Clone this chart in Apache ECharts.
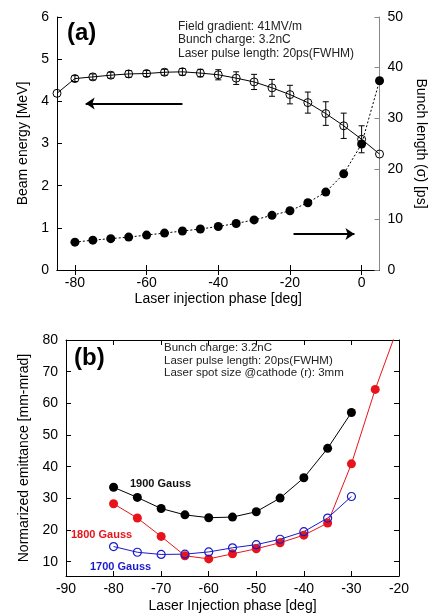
<!DOCTYPE html>
<html>
<head>
<meta charset="utf-8">
<title>injection phase</title>
<style>
  html, body { margin: 0; padding: 0; background: #fff; }
  #main { width: 436px; height: 614px; }
</style>
<script src="https://cdn.jsdelivr.net/npm/echarts@6/dist/echarts.min.js"></script>
</head>
<body>
<div id="main"></div>
<script>
// ---- (a) beam energy + bunch length vs injection phase
var phaseA = [-85, -80, -75, -70, -65, -60, -55, -50, -45, -40, -35, -30, -25, -20, -15, -10, -5, 0, 5];
var energy = [4.19, 4.54, 4.58, 4.62, 4.65, 4.66, 4.69, 4.70, 4.67, 4.63, 4.55, 4.46, 4.32, 4.16, 3.97, 3.71, 3.42, 3.10, 2.75];
var energyErr = [0, 0.07, 0.07, 0.07, 0.08, 0.07, 0.07, 0.08, 0.09, 0.12, 0.15, 0.18, 0.2, 0.22, 0.25, 0.28, 0.3, 0.32, 0];
var phaseBunch = [-80, -75, -70, -65, -60, -55, -50, -45, -40, -35, -30, -25, -20, -15, -10, -5, 0, 5];
var bunchLen = [5.5, 5.9, 6.2, 6.5, 6.9, 7.3, 7.7, 8.1, 8.6, 9.2, 9.9, 10.8, 11.7, 13.3, 15.4, 19.0, 24.9, 37.4];
var ticksA = [-80, -60, -40, -20, 0];

// ---- (b) emittance vs injection phase
var phaseB = [-80, -75, -70, -65, -60, -55, -50, -45, -40, -35, -30, -25, -20];
var g1900 = [33.5, 30.3, 26.8, 24.8, 23.9, 24.1, 25.8, 30.1, 36.5, 45.8, 57.1];
var g1800 = [28.3, 23.8, 18.0, 11.9, 10.9, 12.5, 14.1, 16.0, 18.4, 22.2, 40.9, 64.4, 85];
var g1700 = [14.8, 13.0, 12.3, 12.4, 13.1, 14.4, 15.4, 17.1, 19.5, 23.8, 30.6];
var ticksB = [10, 20, 30, 40, 50, 60, 70, 80];

var FONT = "'Liberation Sans', Arial, sans-serif";

function pairs(xs, ys) {
  return ys.map(function (v, i) { return [xs[i], v]; });
}

var errData = [];
for (var i = 0; i < phaseA.length; i++) {
  if (energyErr[i] > 0) errData.push([phaseA[i], energy[i] - energyErr[i], energy[i] + energyErr[i]]);
}

function renderErr(params, api) {
  var x = api.value(0);
  var lo = api.coord([x, api.value(1)]);
  var hi = api.coord([x, api.value(2)]);
  var st = { stroke: '#000', lineWidth: 1 };
  return {
    type: 'group',
    children: [
      { type: 'line', shape: { x1: lo[0], y1: lo[1], x2: hi[0], y2: hi[1] }, style: st },
      { type: 'line', shape: { x1: lo[0] - 3, y1: lo[1], x2: lo[0] + 3, y2: lo[1] }, style: st },
      { type: 'line', shape: { x1: hi[0] - 3, y1: hi[1], x2: hi[0] + 3, y2: hi[1] }, style: st }
    ]
  };
}

var lbl = { color: '#000', fontSize: 14, fontFamily: FONT };
var tick = { inside: true, length: 5, lineStyle: { color: '#000' } };
var nameStyle = { color: '#000', fontSize: 14, fontFamily: FONT };

function txt(x, y, s, font, color) {
  return { type: 'text', x: x, y: y, style: { text: s, font: font, fill: color || '#222', verticalAlign: 'middle' } };
}

var myChart = echarts.init(document.getElementById('main'));

option = {
  animation: false,
  grid: [
    { left: 57, right: 50, top: 17, height: 253 },
    { left: 66, right: 37, top: 340, height: 240 }
  ],
  xAxis: [
    {
      gridIndex: 0, type: 'value', min: -85, max: 5,
      name: 'Laser injection phase [deg]', nameLocation: 'middle', nameGap: 22, nameTextStyle: nameStyle,
      axisLine: { lineStyle: { color: '#000' } },
      axisTick: Object.assign({ customValues: ticksA }, tick),
      axisLabel: Object.assign({ customValues: ticksA, margin: 6 }, lbl),
      splitLine: { show: false }
    },
    {
      gridIndex: 0, type: 'value', position: 'top', min: -85, max: 5,
      axisLine: { lineStyle: { color: '#000' } },
      axisTick: Object.assign({ customValues: ticksA }, tick),
      axisLabel: { show: false },
      splitLine: { show: false }
    },
    {
      gridIndex: 1, type: 'value', min: -90, max: -20, interval: 10,
      name: 'Laser Injection phase [deg]', nameLocation: 'middle', nameGap: 23, nameTextStyle: nameStyle,
      axisLine: { lineStyle: { color: '#000' } },
      axisTick: tick,
      axisLabel: Object.assign({ margin: 6 }, lbl),
      splitLine: { show: false }
    },
    {
      gridIndex: 1, type: 'value', position: 'top', min: -90, max: -20, interval: 10,
      axisLine: { lineStyle: { color: '#000' } },
      axisTick: tick,
      axisLabel: { show: false },
      splitLine: { show: false }
    }
  ],
  yAxis: [
    {
      gridIndex: 0, type: 'value', min: 0, max: 6, interval: 1,
      name: 'Beam energy [MeV]', nameLocation: 'middle', nameGap: 26, nameTextStyle: nameStyle,
      axisLine: { onZero: false, lineStyle: { color: '#000' } },
      axisTick: tick,
      axisLabel: Object.assign({ margin: 8 }, lbl),
      splitLine: { show: false }
    },
    {
      gridIndex: 0, type: 'value', position: 'right', min: 0, max: 50, interval: 10,
      name: 'Bunch length (\u03c3) [ps]', nameLocation: 'middle', nameGap: 33, nameRotate: -90,
      nameTextStyle: nameStyle,
      axisLine: { onZero: false, lineStyle: { color: '#888' } },
      axisTick: { inside: true, length: 5, lineStyle: { color: '#888' } },
      axisLabel: Object.assign({ margin: 8 }, lbl),
      splitLine: { show: false }
    },
    {
      gridIndex: 1, type: 'value', min: 5.5, max: 80,
      name: 'Normarized emittance [mm-mrad]', nameLocation: 'middle', nameGap: 31, nameTextStyle: nameStyle,
      axisLine: { onZero: false, lineStyle: { color: '#000' } },
      axisTick: Object.assign({ customValues: ticksB }, tick),
      axisLabel: Object.assign({ customValues: ticksB, margin: 8 }, lbl),
      splitLine: { show: false }
    },
    {
      gridIndex: 1, type: 'value', position: 'right', min: 5.5, max: 80,
      axisLine: { onZero: false, lineStyle: { color: '#000' } },
      axisTick: Object.assign({ customValues: ticksB }, tick),
      axisLabel: { show: false },
      splitLine: { show: false }
    }
  ],
  graphic: [
    txt(67, 33, '(a)', 'bold 24px ' + FONT, '#000'),
    txt(178, 27, 'Field gradient: 41MV/m', '12px ' + FONT),
    txt(178, 40, 'Bunch charge: 3.2nC', '12px ' + FONT),
    txt(178, 54, 'Laser pulse length: 20ps(FWHM)', '12px ' + FONT),
    txt(74, 358, '(b)', 'bold 24px ' + FONT, '#000'),
    txt(164, 348, 'Bunch charge: 3.2nC', '11.5px ' + FONT),
    txt(164, 361, 'Laser pulse length: 20ps(FWHM)', '11.5px ' + FONT),
    txt(164, 373, 'Laser spot size @cathode (r): 3mm', '11.5px ' + FONT),
    txt(130, 484, '1900 Gauss', 'bold 11px ' + FONT, '#111'),
    txt(71, 535, '1800 Gauss', 'bold 11px ' + FONT, '#e8141b'),
    txt(90, 567, '1700 Gauss', 'bold 11px ' + FONT, '#1a1acc')
  ],
  series: [
    {
      type: 'custom', xAxisIndex: 0, yAxisIndex: 0,
      renderItem: renderErr, encode: { x: 0, y: [1, 2] },
      data: errData, silent: true, z: 1
    },
    {
      type: 'line', xAxisIndex: 0, yAxisIndex: 0,
      data: pairs(phaseA, energy),
      symbol: 'circle', symbolSize: 8,
      itemStyle: { color: 'rgba(0,0,0,0)', borderColor: '#000', borderWidth: 1 },
      lineStyle: { color: '#000', width: 1 },
      z: 2,
      markLine: {
        silent: true, symbol: ['none', 'arrow'], symbolSize: 9,
        label: { show: false },
        lineStyle: { color: '#000', width: 2, type: 'solid' },
        data: [[{ coord: [-50, 3.95] }, { coord: [-77, 3.95] }]]
      }
    },
    {
      type: 'line', xAxisIndex: 0, yAxisIndex: 1,
      data: pairs(phaseBunch, bunchLen),
      symbol: 'circle', symbolSize: 9,
      itemStyle: { color: '#000' },
      lineStyle: { color: '#000', width: 1, type: [2, 2] },
      z: 3,
      markLine: {
        silent: true, symbol: ['none', 'arrow'], symbolSize: 9,
        label: { show: false },
        lineStyle: { color: '#000', width: 2, type: 'solid' },
        data: [[{ coord: [-19, 7.1] }, { coord: [-2, 7.1] }]]
      }
    },
    {
      type: 'line', xAxisIndex: 2, yAxisIndex: 2,
      data: pairs(phaseB, g1900),
      symbol: 'circle', symbolSize: 9,
      itemStyle: { color: '#000' },
      lineStyle: { color: '#000', width: 1 }
    },
    {
      type: 'line', xAxisIndex: 2, yAxisIndex: 2,
      data: pairs(phaseB, g1800), clip: true,
      symbol: 'circle', symbolSize: 9,
      itemStyle: { color: '#e8141b' },
      lineStyle: { color: '#e8141b', width: 1 }
    },
    {
      type: 'line', xAxisIndex: 2, yAxisIndex: 2,
      data: pairs(phaseB, g1700),
      symbol: 'circle', symbolSize: 8,
      itemStyle: { color: 'rgba(0,0,0,0)', borderColor: '#1a1acc', borderWidth: 1.2 },
      lineStyle: { color: '#1a1acc', width: 1 }
    }
  ]
};

myChart.setOption(option);
</script>
</body>
</html>
